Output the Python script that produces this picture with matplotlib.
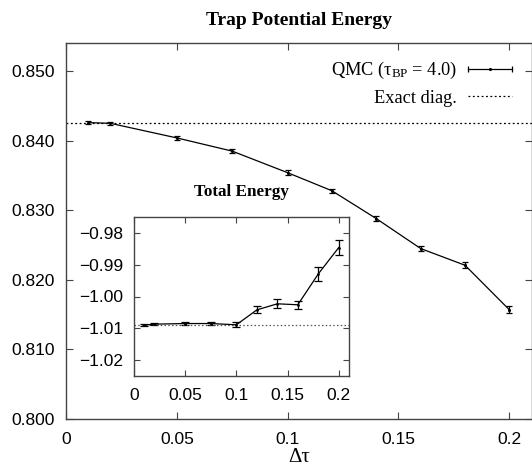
import numpy as np
import matplotlib
matplotlib.use("Agg")
import matplotlib.pyplot as plt
from matplotlib.ticker import FixedLocator, FixedFormatter
from matplotlib.legend_handler import HandlerBase
from matplotlib.lines import Line2D

plt.rcParams['mathtext.fontset'] = 'custom'
plt.rcParams['mathtext.rm'] = 'Liberation Serif'
plt.rcParams['mathtext.it'] = 'Liberation Serif:italic'

SERIF = 'Liberation Serif'
SANS = 'Liberation Sans'

# main panel: trap potential energy vs time step
dtau = [0.01, 0.02, 0.05, 0.075, 0.1, 0.12, 0.14, 0.16, 0.18, 0.2]
trap_e = [0.8426, 0.8425, 0.8404, 0.8385, 0.8354, 0.8328, 0.8288, 0.8245, 0.8221, 0.8157]
trap_err = [0.0002, 0.0002, 0.0003, 0.0003, 0.0004, 0.0003, 0.0004, 0.0004, 0.0004, 0.0005]
trap_exact = 0.8426

# inset: total energy
tot_e = [-1.0090, -1.0087, -1.0085, -1.0085, -1.0089, -1.0042, -1.0023, -1.0026, -0.9929, -0.9846]
tot_err = [0.0003, 0.0004, 0.0006, 0.0006, 0.0008, 0.0011, 0.0014, 0.0013, 0.0022, 0.0023]
tot_exact = -1.0090

main_xticks = [0, 0.05, 0.1, 0.15, 0.2]
main_xlabels = ['0', '0.05', '0.1', '0.15', '0.2']
main_yticks = [0.800, 0.810, 0.820, 0.830, 0.840, 0.850]
main_ylabels = ['0.800', '0.810', '0.820', '0.830', '0.840', '0.850']
ins_yticks = [-1.02, -1.01, -1.00, -0.99, -0.98]
ins_ylabels = ['\u22121.02', '\u22121.01', '\u22121.00', '\u22120.99', '\u22120.98']


class HorizErrHandler(HandlerBase):
    # gnuplot-like legend sample: horizontal bar with end ticks and a dot
    def create_artists(self, legend, orig, xd, yd, w, h, fs, trans):
        y = h / 2 - yd
        x0, x1 = -xd, -xd + w
        line = Line2D([x0, x1], [y, y], color='black', lw=0.9)
        caps = Line2D([x0, x1], [y, y], ls='none', marker='|', ms=5,
                      mew=0.9, color='black')
        dot = Line2D([(x0 + x1) / 2], [y], ls='none', marker='.', ms=2.5,
                     color='black')
        for a in (line, caps, dot):
            a.set_transform(trans)
        return [line, caps, dot]


W, H = 532, 472
fig = plt.figure(figsize=(W / 100, H / 100), dpi=100)

def style_axes(ax, ticklen, fs):
    for s in ax.spines.values():
        s.set_color('#444444')
        s.set_linewidth(1.0)
    ax.tick_params(direction='in', length=ticklen, width=0.8, color='#444444',
                   top=True, right=True, labelsize=fs, pad=8)
    ax.tick_params(axis='x', pad=9)
    for lab in ax.get_xticklabels() + ax.get_yticklabels():
        lab.set_fontfamily(SANS)

ax = fig.add_axes([66 / W, (H - 419) / H, 465.5 / W, (419 - 43.3) / H])
eb = ax.errorbar(dtau, trap_e, yerr=trap_err, color='black', lw=0.9,
                 marker='.', ms=2.5, capsize=2.5, elinewidth=0.9, capthick=0.9)
ex = ax.axhline(trap_exact, color='black', ls=(0, (1.5, 2.0)), lw=0.9)
ax.set_xlim(0, 0.21)
ax.set_ylim(0.800, 0.854)
ax.xaxis.set_major_locator(FixedLocator(main_xticks))
ax.xaxis.set_major_formatter(FixedFormatter(main_xlabels))
ax.yaxis.set_major_locator(FixedLocator(main_yticks))
ax.yaxis.set_major_formatter(FixedFormatter(main_ylabels))
style_axes(ax, 5, 12.5)
ax.set_xlabel('\u0394\u03c4', fontfamily=SERIF, fontsize=15, labelpad=1)
ax.set_title('Trap Potential Energy', fontfamily=SERIF, fontweight='bold',
             fontsize=14, pad=13)
ax.legend([eb, ex], ['QMC (\u03c4$_{\\rm BP}$ = 4.0)', 'Exact diag.'],
          handler_map={type(eb): HorizErrHandler()},
          loc='upper right', frameon=False, markerfirst=False,
          prop={'family': SERIF, 'size': 13.2}, handlelength=2.4,
          borderpad=0, borderaxespad=0, labelspacing=0.45, handletextpad=0.6,
          bbox_to_anchor=(0.958, 0.955))

axi = fig.add_axes([134 / W, (H - 376) / H, 215 / W, (376 - 217) / H])
axi.errorbar(dtau, tot_e, yerr=tot_err, color='black', lw=0.9,
             marker='.', ms=2, capsize=3, elinewidth=0.9, capthick=0.9)
axi.axhline(tot_exact, color='#555555', ls=(0, (1.2, 1.8)), lw=0.9)
axi.set_xlim(0, 0.21)
axi.set_ylim(-1.025, -0.975)
axi.xaxis.set_major_locator(FixedLocator(main_xticks))
axi.xaxis.set_major_formatter(FixedFormatter(main_xlabels))
axi.yaxis.set_major_locator(FixedLocator(ins_yticks))
axi.yaxis.set_major_formatter(FixedFormatter(ins_ylabels))
style_axes(axi, 4, 12.5)
axi.set_title('Total Energy', fontfamily=SERIF, fontweight='bold',
              fontsize=12.3, pad=15)

fig.savefig('out.png', dpi=100)
